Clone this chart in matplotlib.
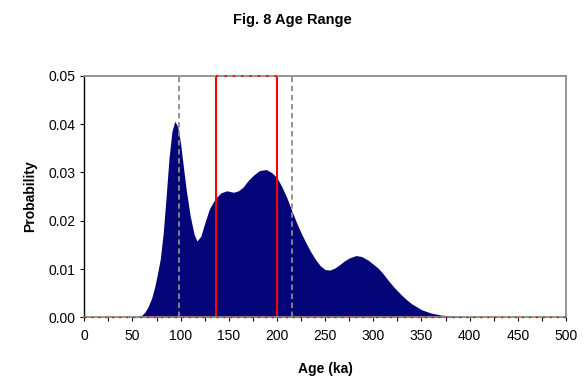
import numpy as np
import matplotlib.pyplot as plt
from matplotlib.ticker import MultipleLocator, FormatStrFormatter

plt.rcParams['font.family'] = ['Liberation Sans', 'DejaVu Sans']

# probability curve
age = [0, 50, 55, 60, 63, 66, 70, 73, 76, 79, 82, 85, 88, 91, 94, 97, 100,
       103, 106, 110, 114, 117, 121, 125, 130, 136, 142, 148, 155, 160, 165,
       170, 176, 182, 189, 195, 200, 205, 210, 215, 220, 225, 230, 235, 240,
       245, 250, 255, 260, 265, 270, 275, 282, 288, 295, 300, 305, 310, 315,
       320, 325, 330, 335, 340, 345, 350, 360, 370, 380, 390, 400, 420, 500]
prob = [0, 0, 0.0001, 0.0005, 0.0011, 0.0021, 0.0040, 0.0062, 0.0090,
        0.0122, 0.0175, 0.0250, 0.0330, 0.0385, 0.0406, 0.0395, 0.0360,
        0.0310, 0.0262, 0.0210, 0.0172, 0.0158, 0.0168, 0.0195, 0.0225,
        0.0246, 0.0258, 0.0262, 0.0259, 0.0262, 0.0270, 0.0283, 0.0295,
        0.0304, 0.0306, 0.0299, 0.0289, 0.0271, 0.0249, 0.0223, 0.0198,
        0.0175, 0.0155, 0.0136, 0.0120, 0.0107, 0.0099, 0.0098, 0.0102,
        0.0109, 0.0117, 0.0123, 0.0128, 0.0126, 0.0118, 0.0110, 0.0102,
        0.0091, 0.0078, 0.0066, 0.0055, 0.0045, 0.0036, 0.0028, 0.0022,
        0.0016, 0.0009, 0.0005, 0.0003, 0.0001, 0.00005, 0, 0]

range_95 = [98.5, 215.5]   # gray dashed
range_68 = [137, 200.5]    # red box

fig = plt.figure(figsize=(5.85, 3.79), dpi=100)
ax = fig.add_axes([0.1440, 0.1625, 0.8235, 0.6375])

ax.fill_between(age, prob, 0, color='#05057a', lw=0)

for v in range_95:
    ax.plot([v, v], [0, 0.05], color='#8c8c8c', ls=(0, (3, 2)), lw=1.3)
for v in range_68:
    ax.plot([v, v], [0, 0.05], color='#ff0000', lw=1.5)
ax.plot(range_68, [0.05, 0.05], color='#ff0000', ls=(0, (1.5, 3.5)), lw=1.2, clip_on=False, zorder=5)
ax.plot([0, 500], [0, 0], color='#ff0000', ls=(0, (1.5, 3.5)), lw=1.0, clip_on=False, zorder=5)

ax.set_xlim(0, 500)
ax.set_ylim(0, 0.05)
ax.xaxis.set_major_locator(MultipleLocator(50))
ax.xaxis.set_minor_locator(MultipleLocator(25))
ax.yaxis.set_major_locator(MultipleLocator(0.01))
ax.yaxis.set_major_formatter(FormatStrFormatter('%.2f'))
ax.tick_params(which='both', direction='out', length=3, width=0.8, labelsize=10, colors='black')
ax.tick_params(axis='x', pad=5)

for s in ['top', 'right', 'bottom']:
    ax.spines[s].set_color('#8c8c8c')
    ax.spines[s].set_linewidth(1.3)
ax.spines['left'].set_color('black')
ax.spines['left'].set_linewidth(1.0)

ax.set_xlabel('Age (ka)', fontsize=10, fontweight='bold', labelpad=14)
ax.set_ylabel('Probability', fontsize=10, fontweight='bold', labelpad=8)
fig.suptitle('Fig. 8 Age Range', fontsize=10.5, fontweight='bold', y=0.965, x=0.5)

fig.savefig('out.png', dpi=100)
